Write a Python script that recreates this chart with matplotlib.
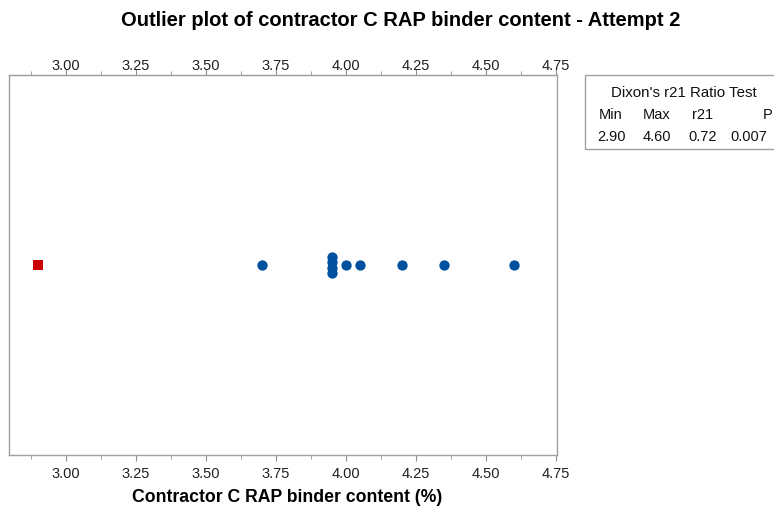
import matplotlib
matplotlib.use("Agg")
import matplotlib.pyplot as plt
from matplotlib.patches import Rectangle
from matplotlib.ticker import MultipleLocator
from collections import Counter

plt.rcParams['font.family'] = ['Liberation Sans', 'DejaVu Sans']

# Data
normal_values = [3.70, 3.95, 3.95, 3.95, 3.95, 4.00, 4.05, 4.20, 4.35, 4.60]
outlier_values = [2.90]
tick_values = [3.00, 3.25, 3.50, 3.75, 4.00, 4.25, 4.50, 4.75]
table_headers = ["Min", "Max", "r21", "P"]
table_values = ["2.90", "4.60", "0.72", "0.007"]

W, H = 774, 511
fig = plt.figure(figsize=(W / 100, H / 100), dpi=100)
ax = fig.add_axes([9 / W, (H - 455) / H, (557 - 9) / W, (455 - 75) / H])

# stack duplicates vertically
cnt = Counter(normal_values)
xs, ys = [], []
step = 0.0145
for v, n in sorted(cnt.items()):
    for i in range(n):
        xs.append(v)
        ys.append(0.5 + (i - (n - 1) / 2) * step)
ax.scatter(xs, ys, s=55, color="#0050a0", marker="o", linewidths=0, zorder=3)
ax.scatter(outlier_values, [0.5] * len(outlier_values), s=55, color="#cc0000",
           marker="s", linewidths=0, zorder=3)

ax.set_xlim(2.796, 4.7536)
ax.set_ylim(0, 1)
ax.set_yticks([])
ax.set_xticks(tick_values)
ax.set_xticklabels([f"{t:.2f}" for t in tick_values])
ax.xaxis.set_minor_locator(MultipleLocator(0.125))
ax.tick_params(axis="x", which="both", direction="out", color="#909090",
               labelsize=10.5, labelcolor="#222222")
ax.tick_params(axis="x", which="major", length=4, pad=4.3)
ax.tick_params(axis="x", which="minor", length=3)
for s in ax.spines.values():
    s.set_color("#a0a0a0")
    s.set_linewidth(1.0)

sec = ax.secondary_xaxis("top")
sec.set_xticks(tick_values)
sec.set_xticklabels([f"{t:.2f}" for t in tick_values])
sec.xaxis.set_minor_locator(MultipleLocator(0.125))
sec.tick_params(axis="x", which="both", direction="out", color="#909090",
                labelsize=10.5, labelcolor="#222222")
sec.tick_params(axis="x", which="major", length=4, pad=-2.5)
sec.tick_params(axis="x", which="minor", length=3)
sec.spines["top"].set_color("#a0a0a0")

ax.set_xlabel("Contractor C RAP binder content (%)", fontsize=12.7, fontweight="bold",
              labelpad=6)
ax.xaxis.set_label_coords((287 - 9) / (557 - 9), -0.01, transform=None) if False else None
ax.xaxis.label.set_x((287 - 9) / (557 - 9))

fig.text(401 / W, 1 - 20.5 / H, "Outlier plot of contractor C RAP binder content - Attempt 2",
         ha="center", va="center", fontsize=14.5, fontweight="bold")

# Dixon table box
box = Rectangle((585 / W, 1 - 149 / H), (800 - 585) / W, (149 - 75.5) / H,
                transform=fig.transFigure, fill=False, edgecolor="#a0a0a0",
                linewidth=1.0, clip_on=False)
fig.add_artist(box)
fig.text(684 / W, 1 - 93 / H, "Dixon's r21 Ratio Test", ha="center", va="center",
         fontsize=10.8, color="#111111")
col_x = [611, 657, 703, 749]
for x, h, v in zip(col_x, table_headers, table_values):
    hx = 768 if h == "P" else x
    fig.text(hx / W, 1 - 115 / H, h, ha="center", va="center", fontsize=10.5, color="#111111")
    fig.text(x / W, 1 - 137 / H, v, ha="center", va="center", fontsize=10.5, color="#111111")

fig.savefig("out.png", dpi=100)
